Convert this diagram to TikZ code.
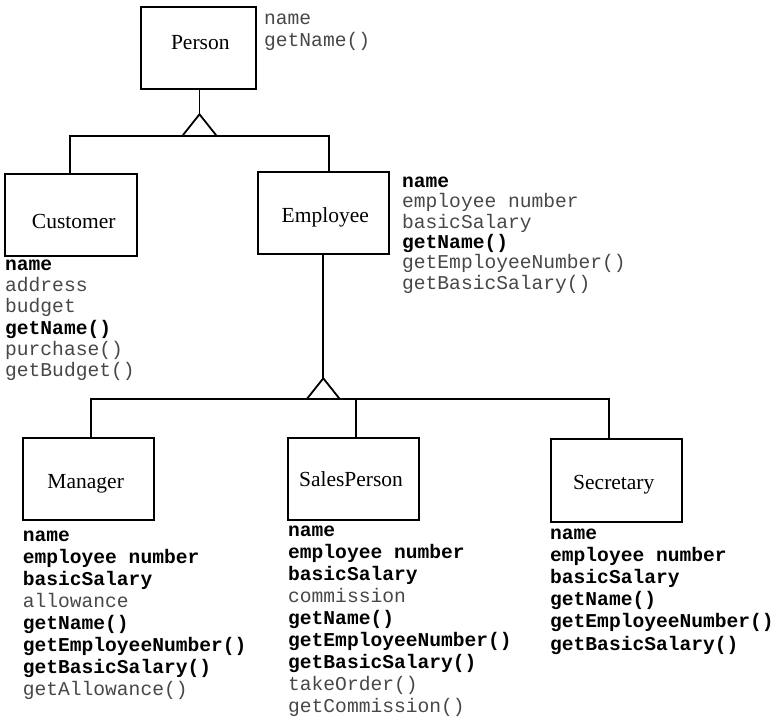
\documentclass[tikz,border=0pt]{standalone}
\usepackage{fontspec}
\setmainfont{Liberation Serif}
\newfontfamily\monof{Liberation Mono}
\newcommand\kb[1]{\textcolor{black}{\bfseries #1}}
\newcommand\attrlist[5]{\foreach \t [count=\i from 0] in {#5} {\node[attr] (#1\i) at (#2,{#3+\i*#4}) {\t};}}
\tikzset{
  cls/.style={draw, line width=1.8pt, rectangle, inner sep=0pt},
  clsname/.style={font=\fontsize{21.5}{24}\selectfont, inner sep=0pt, anchor=base},
  attr/.style={font=\monof\fontsize{19.6}{22}\selectfont, inner sep=0pt, anchor=base west, text=black!72},
  conn/.style={line width=1.8pt},
}
\begin{document}
\begin{tikzpicture}[x=1pt,y=-1pt]
\useasboundingbox (0,0) rectangle (776,717);
% class boxes
\node[cls, minimum width=114.7, minimum height=82.6] (person) at (198.7,48) {};
\node[cls, minimum width=132, minimum height=82] (cust) at (71.3,215) {};
\node[cls, minimum width=131, minimum height=82.3] (emp) at (323.8,213.2) {};
\node[cls, minimum width=131.6, minimum height=81.7] (mgr) at (88.5,479.2) {};
\node[cls, minimum width=131.3, minimum height=82.3] (sp) at (353.7,478.8) {};
\node[cls, minimum width=131.6, minimum height=82.4] (sec) at (616.5,480.5) {};
% class names
\node[clsname] (personT) at (200.3,50) {Person};
\node[clsname] (custT) at (73.8,228.3) {Customer};
\node[clsname] (empT) at (325.3,222.5) {Employee};
\node[clsname] (mgrT) at (85.7,488.3) {Manager};
\node[clsname] (spT) at (351,486.2) {SalesPerson};
\node[clsname] (secT) at (613.8,489.3) {Secretary};
% generalisation 1
\coordinate (t1) at (199.5,135.7);
\coordinate (a1) at (199.5,114.3);
\draw[conn] (person.south -| a1) -- (a1);
\draw[conn, line join=miter] ([xshift=-17]t1) -- (a1) -- ([xshift=17]t1);
\draw[conn] ([xshift=-1.6]cust.north) |- ([xshift=5]emp.north |- t1) -- ([xshift=5]emp.north);
% generalisation 2
\coordinate (t2) at (323.3,399.3);
\coordinate (a2) at (323.3,378.3);
\draw[conn] (emp.south -| a2) -- (a2);
\draw[conn, line join=miter] ([xshift=-16.7]t2) -- (a2) -- ([xshift=16.7]t2);
\draw[conn] ([xshift=2.2]mgr.north) |- ([xshift=-7.2]sec.north |- t2) -- ([xshift=-7.2]sec.north);
\draw[conn] ([xshift=2]sp.north) -- ([xshift=2]sp.north |- t2);
% attribute lists
\attrlist{pa}{264}{25}{22}{name,getName()}
\attrlist{ca}{5}{270.5}{21.2}{\kb{name},address,budget,\kb{getName()},purchase(),getBudget()}
\attrlist{ea}{402}{187.5}{20.3}{\kb{name},employee number,basicSalary,\kb{getName()},getEmployeeNumber(),getBasicSalary()}
\attrlist{ma}{22.7}{541}{22.1}{\kb{name},\kb{employee number},\kb{basicSalary},allowance,\kb{getName()},\kb{getEmployeeNumber()},\kb{getBasicSalary()},getAllowance()}
\attrlist{sa}{288}{536}{22}{\kb{name},\kb{employee number},\kb{basicSalary},commission,\kb{getName()},\kb{getEmployeeNumber()},\kb{getBasicSalary()},takeOrder(),getCommission()}
\attrlist{xa}{550}{539.5}{22.1}{\kb{name},\kb{employee number},\kb{basicSalary},\kb{getName()},\kb{getEmployeeNumber()},\kb{getBasicSalary()}}
\end{tikzpicture}
\end{document}
